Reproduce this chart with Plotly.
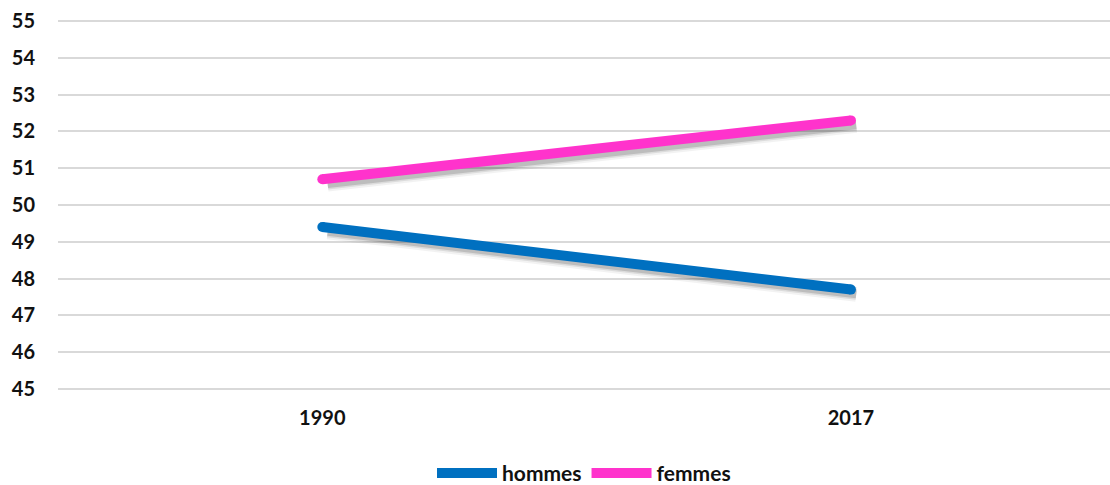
import plotly.graph_objects as go

# Data
years = ["1990", "2017"]
hommes = [49.4, 47.7]
femmes = [50.7, 52.3]
y_ticks = list(range(45, 56))

series = [("hommes", hommes, "#0070c0"), ("femmes", femmes, "#ff33cc")]

Y_RANGE = [44.97, 55.03]
X_RANGE = [-0.5, 1.49]

fig = go.Figure()

# Base axis pair: carries the gridlines and tick labels
fig.add_trace(go.Scatter(x=years, y=[None, None], mode="lines",
                         showlegend=False, hoverinfo="skip"))

# Soft drop shadows, drawn on an overlay axis pair with a slightly offset range
shadow_layers = [(0.05, 15), (0.09, 11), (0.14, 8)]
for name, vals, color in series:
    for alpha, w in shadow_layers:
        fig.add_trace(go.Scatter(
            x=years, y=vals, mode="lines", xaxis="x2", yaxis="y2",
            line=dict(color=f"rgba(0,0,0,{alpha})", width=w),
            showlegend=False, hoverinfo="skip"))

# Main lines on a top overlay axis pair with the true range
for name, vals, color in series:
    fig.add_trace(go.Scatter(
        x=years, y=vals, mode="lines", name=name, xaxis="x3", yaxis="y3",
        line=dict(color=color, width=10)))
    # round end caps
    fig.add_trace(go.Scatter(
        x=years, y=vals, mode="markers", showlegend=False, hoverinfo="skip",
        xaxis="x3", yaxis="y3",
        marker=dict(color=color, size=10, line=dict(width=0))))

tick_font = dict(size=20, family="Lato", weight="bold", color="#111111")

fig.update_layout(
    width=1110, height=485,
    margin=dict(l=58, r=0, t=20, b=95, autoexpand=False),
    paper_bgcolor="white", plot_bgcolor="white",
    font=dict(family="Lato, Open Sans, sans-serif", size=20, color="#111111"),
    xaxis=dict(type="category", categoryarray=years, showgrid=False,
               zeroline=False, showline=False, ticks="", tickfont=tick_font,
               range=X_RANGE, ticklabelstandoff=14),
    xaxis2=dict(type="category", categoryarray=years, overlaying="x",
                range=[X_RANGE[0] - 0.01, X_RANGE[1] - 0.01], visible=False),
    xaxis3=dict(type="category", categoryarray=years, overlaying="x",
                range=X_RANGE, visible=False),
    yaxis=dict(range=Y_RANGE, tickvals=y_ticks, showgrid=True,
               gridcolor="#d9d9d9", gridwidth=2, zeroline=False, showline=False,
               ticks="", tickfont=tick_font, ticklabelstandoff=22),
    yaxis2=dict(overlaying="y", range=[Y_RANGE[0] + 0.13, Y_RANGE[1] + 0.13],
                visible=False),
    yaxis3=dict(overlaying="y", range=Y_RANGE, visible=False),
    legend=dict(orientation="h", x=0.5, xanchor="center", y=-0.225,
                yanchor="middle", font=dict(size=21, family="Lato",
                                            weight="bold", color="#111111"),
                itemwidth=60),
    showlegend=True,
)

fig.write_html("out.html")
